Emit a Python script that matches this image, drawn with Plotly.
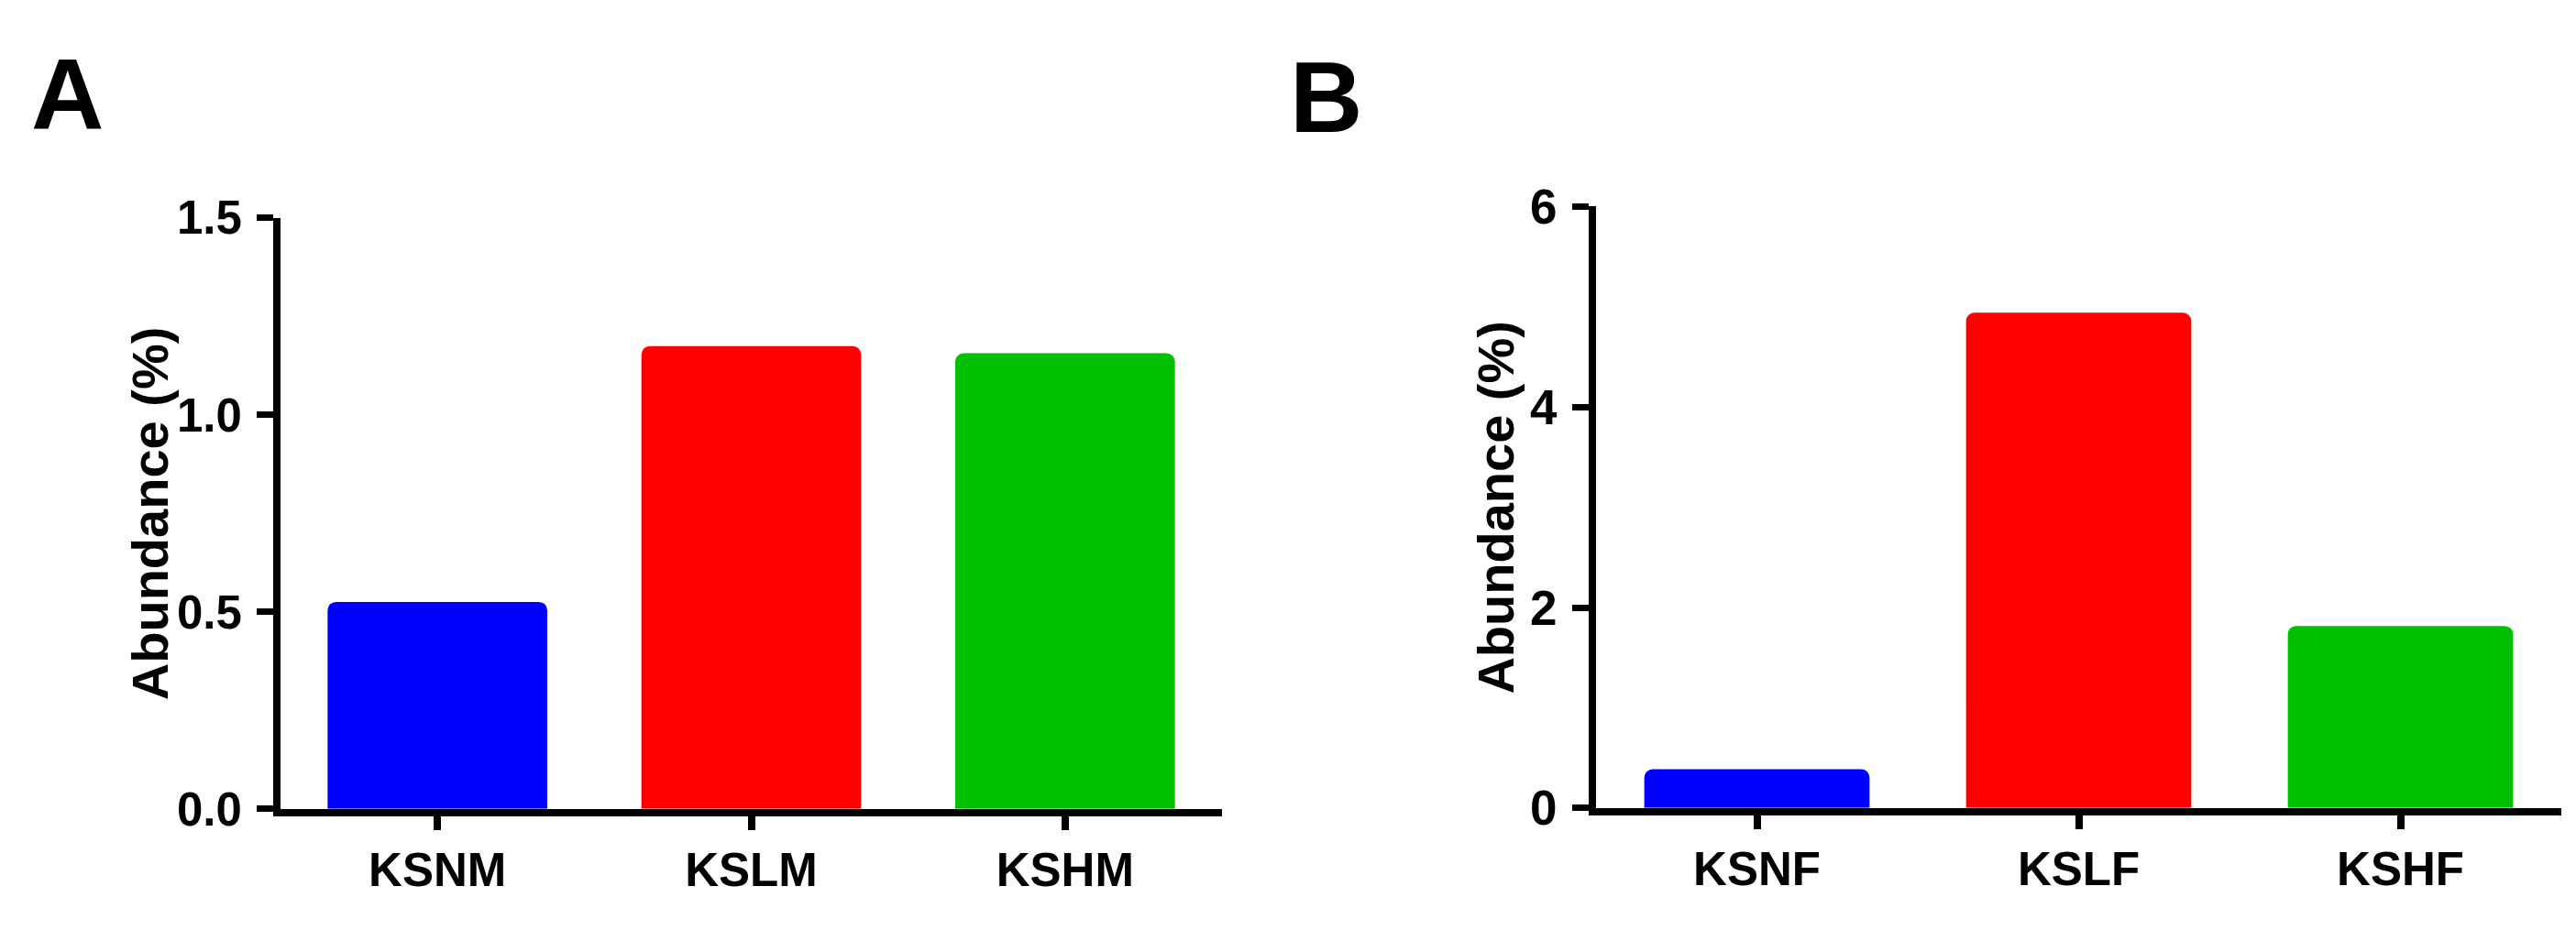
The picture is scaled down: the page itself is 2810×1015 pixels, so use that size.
import plotly.graph_objects as go

# ---- data ----
cats_a = ["KSNM", "KSLM", "KSHM"]
vals_a = [0.525, 1.174, 1.156]
cats_b = ["KSNF", "KSLF", "KSHF"]
vals_b = [0.387, 4.94, 1.816]
bar_colors = ["#0000FF", "#FF0000", "#00C000"]
yticks_a = [0.0, 0.5, 1.0, 1.5]
yticks_b = [0, 2, 4, 6]
ytitle = "Abundance (%)"
panel_labels = ["A", "B"]

W, H = 2810, 1015
FONT = "Liberation Sans, Arial, sans-serif"

fig = go.Figure()
fig.add_trace(go.Bar(x=cats_a, y=vals_a, marker=dict(color=bar_colors, line=dict(width=0), cornerradius=9),
                     xaxis="x", yaxis="y", showlegend=False))
fig.add_trace(go.Bar(x=cats_b, y=vals_b, marker=dict(color=bar_colors, line=dict(width=0), cornerradius=9),
                     xaxis="x2", yaxis="y2", showlegend=False))


def px_x(v):
    return v / W


def px_y(v):
    return 1 - v / H


xdom_a = [px_x(298), px_x(1325)]
xdom_b = [px_x(1733), px_x(2786)]
ydom_a = [px_y(898), px_y(213)]
ydom_b = [px_y(897), px_y(200)]

common_x = dict(showline=True, linewidth=8, linecolor="black", ticks="outside", ticklen=15,
                tickwidth=8, tickcolor="black", showgrid=False, zeroline=False,
                tickfont=dict(family=FONT, size=51, color="black", weight="bold"),
                range=[-0.5, 2.5], fixedrange=True)
common_y = dict(showline=True, linewidth=8, linecolor="black", ticks="outside", ticklen=18,
                tickwidth=7, tickcolor="black", showgrid=False, zeroline=False,
                ticklabelstandoff=6, fixedrange=True)

fig.update_layout(
    width=W, height=H, margin=dict(l=0, r=0, t=0, b=0),
    paper_bgcolor="white", plot_bgcolor="white", bargap=0.30,
    xaxis=dict(domain=xdom_a, anchor="y", **common_x),
    yaxis=dict(domain=ydom_a, anchor="x", range=[0, 1.5], tickvals=yticks_a,
               ticktext=[f"{v:.1f}" for v in yticks_a],
               tickfont=dict(family=FONT, size=51, color="black", weight="bold"), **common_y),
    xaxis2=dict(domain=xdom_b, anchor="y2", **common_x),
    yaxis2=dict(domain=ydom_b, anchor="x2", range=[0, 6], tickvals=yticks_b,
                ticktext=[str(v) for v in yticks_b],
                tickfont=dict(family=FONT, size=53, color="black", weight="bold"), **common_y),
)

annots = []
for lab, xl, yc in zip(panel_labels, [24, 1397], [68, 73]):
    annots.append(dict(text=lab, x=px_x(xl), y=px_y(yc), xref="paper", yref="paper",
                       xanchor="left", yanchor="middle", showarrow=False,
                       font=dict(family=FONT, size=110, color="black", weight="bold")))
for xc, yd in zip([155, 1624], [ydom_a, ydom_b]):
    annots.append(dict(text=ytitle, x=px_x(xc), y=(yd[0] + yd[1]) / 2, xref="paper", yref="paper",
                       xanchor="center", yanchor="middle", showarrow=False, textangle=-90,
                       font=dict(family=FONT, size=56, color="black", weight="bold")))
fig.update_layout(annotations=annots)

fig.write_html("out.html")
